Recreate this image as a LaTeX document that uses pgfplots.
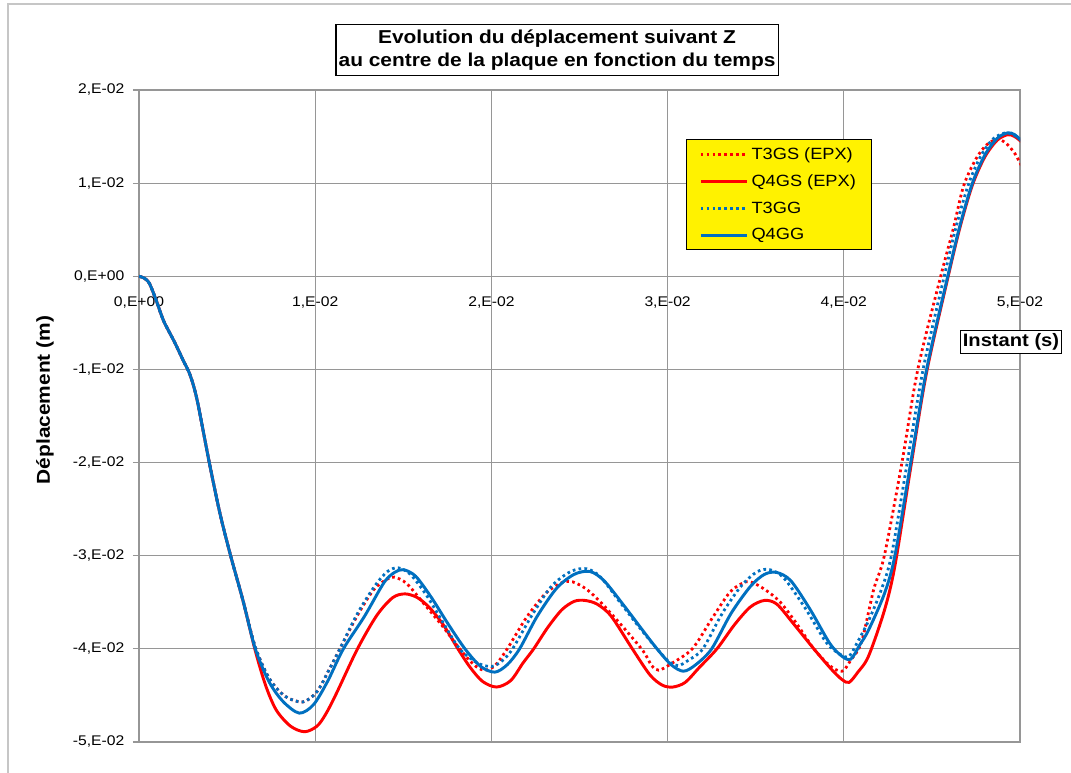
\documentclass[border=0pt]{standalone}
\usepackage{pgfplots}
\pgfplotsset{compat=1.18}
\usepackage{pgfplotstable}
\usepackage{fontspec}
\setmainfont{Liberation Sans}[FakeStretch=1.12]

\definecolor{xlred}{RGB}{255,0,0}
\definecolor{xlblue}{RGB}{0,112,192}
\definecolor{gridgray}{RGB}{150,150,150}

% T3GS (EPX)
\pgfplotstableread{
t      w
0      0
0.0003 -0.0002
0.0006 -0.0008
0.0010 -0.0027
0.0014 -0.0048
0.0020 -0.0070
0.0025 -0.0090
0.0029 -0.0106
0.0033 -0.0133
0.0040 -0.0201
0.0046 -0.0255
0.0052 -0.0300
0.0059 -0.0348
0.0066 -0.0398
0.0074 -0.0432
0.0083 -0.0451
0.0093 -0.0457
0.0101 -0.0446
0.0108 -0.0422
0.0114 -0.0400
0.0124 -0.0364
0.0133 -0.0337
0.0140 -0.0326
0.0145 -0.0323
0.0152 -0.0330
0.0161 -0.0350
0.0172 -0.0375
0.0182 -0.0400
0.0190 -0.0417
0.0196 -0.0423
0.0202 -0.0418
0.0209 -0.0400
0.0220 -0.0366
0.0231 -0.0340
0.0240 -0.0329
0.0246 -0.0328
0.0254 -0.0336
0.0262 -0.0350
0.0274 -0.0375
0.0286 -0.0402
0.0291 -0.0418
0.0295 -0.0423
0.0302 -0.0416
0.0314 -0.0400
0.0325 -0.0368
0.0335 -0.0340
0.0342 -0.0330
0.0347 -0.0328
0.0355 -0.0336
0.0364 -0.0350
0.0374 -0.0375
0.0383 -0.0400
0.0392 -0.0418
0.0399 -0.0424
0.0404 -0.0412
0.0410 -0.0393
0.0417 -0.0336
0.0423 -0.0300
0.0433 -0.0200
0.0442 -0.0100
0.0455 0.0000
0.0462 0.0050
0.0468 0.0097
0.0475 0.0126
0.0481 0.0141
0.0487 0.0147
0.0492 0.0143
0.0497 0.0132
0.0501 0.0118
}\tthreegs

% Q4GS (EPX)
\pgfplotstableread{
t      w
0      0
0.0003 -0.0002
0.0006 -0.0008
0.0010 -0.0027
0.0014 -0.0048
0.0020 -0.0070
0.0025 -0.0090
0.0029 -0.0106
0.0033 -0.0133
0.0040 -0.0201
0.0046 -0.0255
0.0052 -0.0300
0.0059 -0.0348
0.0066 -0.0402
0.0072 -0.0440
0.0078 -0.0466
0.0086 -0.0483
0.0094 -0.0489
0.0101 -0.0483
0.0106 -0.0470
0.0112 -0.0448
0.0124 -0.0400
0.0135 -0.0364
0.0144 -0.0345
0.0151 -0.0341
0.0158 -0.0345
0.0165 -0.0356
0.0173 -0.0375
0.0181 -0.0400
0.0188 -0.0420
0.0195 -0.0435
0.0203 -0.0441
0.0211 -0.0434
0.0218 -0.0415
0.0224 -0.0400
0.0232 -0.0377
0.0240 -0.0358
0.0247 -0.0349
0.0253 -0.0348
0.0260 -0.0352
0.0268 -0.0365
0.0280 -0.0400
0.0290 -0.0428
0.0297 -0.0439
0.0303 -0.0441
0.0310 -0.0436
0.0318 -0.0420
0.0328 -0.0400
0.0338 -0.0374
0.0347 -0.0355
0.0355 -0.0348
0.0362 -0.0352
0.0371 -0.0372
0.0383 -0.0400
0.0393 -0.0422
0.0399 -0.0433
0.0403 -0.0436
0.0408 -0.0425
0.0414 -0.0408
0.0423 -0.0359
0.0429 -0.0311
0.0438 -0.0205
0.0447 -0.0103
0.0459 -0.0002
0.0466 0.0053
0.0473 0.0098
0.0480 0.0128
0.0487 0.0146
0.0493 0.0152
0.0497 0.0150
0.0501 0.0144
}\qfourgs

% T3GG
\pgfplotstableread{
t      w
0      0
0.0003 -0.0002
0.0006 -0.0008
0.0010 -0.0027
0.0014 -0.0048
0.0020 -0.0070
0.0025 -0.0090
0.0029 -0.0106
0.0033 -0.0133
0.0040 -0.0201
0.0046 -0.0255
0.0052 -0.0300
0.0059 -0.0348
0.0066 -0.0398
0.0074 -0.0432
0.0083 -0.0451
0.0093 -0.0457
0.0101 -0.0446
0.0108 -0.0422
0.0114 -0.0400
0.0124 -0.0362
0.0134 -0.0332
0.0141 -0.0317
0.0147 -0.0313
0.0154 -0.0320
0.0163 -0.0342
0.0172 -0.0370
0.0182 -0.0400
0.0192 -0.0415
0.0200 -0.0419
0.0206 -0.0413
0.0212 -0.0400
0.0223 -0.0364
0.0234 -0.0333
0.0245 -0.0317
0.0254 -0.0314
0.0262 -0.0323
0.0273 -0.0350
0.0284 -0.0377
0.0294 -0.0400
0.0301 -0.0414
0.0306 -0.0418
0.0312 -0.0412
0.0320 -0.0400
0.0331 -0.0362
0.0342 -0.0332
0.0351 -0.0317
0.0358 -0.0315
0.0366 -0.0324
0.0378 -0.0356
0.0390 -0.0393
0.0398 -0.0406
0.0403 -0.0408
0.0408 -0.0392
0.0414 -0.0370
0.0421 -0.0338
0.0427 -0.0300
0.0436 -0.0200
0.0445 -0.0100
0.0457 0.0000
0.0464 0.0055
0.0471 0.0100
0.0478 0.0130
0.0485 0.0148
0.0492 0.0154
0.0497 0.0151
0.0501 0.0146
}\tthreegg

% Q4GG
\pgfplotstableread{
t      w
0      0
0.0003 -0.0002
0.0006 -0.0008
0.0010 -0.0027
0.0014 -0.0048
0.0020 -0.0070
0.0025 -0.0090
0.0029 -0.0106
0.0033 -0.0133
0.0040 -0.0201
0.0046 -0.0255
0.0052 -0.0300
0.0059 -0.0348
0.0066 -0.0400
0.0074 -0.0436
0.0082 -0.0457
0.0091 -0.0469
0.0099 -0.0460
0.0107 -0.0435
0.0116 -0.0400
0.0128 -0.0365
0.0139 -0.0329
0.0145 -0.0318
0.0150 -0.0315
0.0157 -0.0322
0.0166 -0.0345
0.0175 -0.0372
0.0185 -0.0400
0.0194 -0.0419
0.0202 -0.0425
0.0209 -0.0417
0.0216 -0.0400
0.0226 -0.0365
0.0237 -0.0335
0.0247 -0.0320
0.0256 -0.0317
0.0264 -0.0327
0.0275 -0.0353
0.0285 -0.0378
0.0294 -0.0400
0.0302 -0.0417
0.0309 -0.0424
0.0316 -0.0417
0.0325 -0.0400
0.0336 -0.0362
0.0347 -0.0333
0.0355 -0.0320
0.0362 -0.0318
0.0370 -0.0327
0.0381 -0.0358
0.0392 -0.0394
0.0399 -0.0408
0.0404 -0.0411
0.0409 -0.0396
0.0414 -0.0380
0.0423 -0.0341
0.0429 -0.0300
0.0438 -0.0200
0.0447 -0.0100
0.0459 0.0000
0.0466 0.0055
0.0473 0.0100
0.0480 0.0130
0.0487 0.0148
0.0493 0.0154
0.0497 0.0152
0.0501 0.0145
}\qfourgg

\begin{document}
\begin{tikzpicture}
\path[use as bounding box, fill=white] (-104.25pt,-23.25pt) rectangle (699pt,556.5pt);
% bords de la feuille
\draw[gray!45, line width=0.8pt] (-98.25pt,-23.25pt) -- (-98.25pt,553.5pt) -- (699pt,553.5pt);
\begin{axis}[
  at={(0pt,0pt)}, anchor=south west,
  scale only axis, width=660.75pt, height=489pt,
  xmin=0, xmax=0.05, ymin=-0.05, ymax=0.02,
  xtick={0,0.01,0.02,0.03,0.04,0.05},
  xticklabels={{0,E+00},{1,E-02},{2,E-02},{3,E-02},{4,E-02},{5,E-02}},
  ytick={-0.05,-0.04,-0.03,-0.02,-0.01,0,0.01,0.02},
  yticklabels={{-5,E-02},{-4,E-02},{-3,E-02},{-2,E-02},{-1,E-02},{0,E+00},{1,E-02},{2,E-02}},
  scaled x ticks=false, scaled y ticks=false,
  grid=major,
  major grid style={gridgray, line width=0.9pt},
  axis line style={gridgray, line width=0.9pt},
  tick style={gridgray, line width=0.9pt},
  ytick pos=left, tick align=outside, major tick length=4.5pt,
  x tick style={draw=none},
  xticklabel style={font=\fontsize{10.5}{12}\selectfont, yshift=342pt},
  yticklabel style={font=\fontsize{10.5}{12}\selectfont, xshift=-3pt},
  title={Evolution du déplacement suivant Z\\au centre de la plaque en fonction du temps},
  every axis title/.style={at={(axis description cs:0.4745,1.0613)}, anchor=center,
    draw=black, fill=white, align=center, line width=0.8pt,
    font=\bfseries\fontsize{14}{17}\selectfont, inner xsep=2pt, inner ysep=4pt},
  xlabel={Instant (s)},
  xlabel style={at={(axis description cs:0.9898,0.6135)}, anchor=center,
    draw=black, fill=white, line width=0.8pt,
    font=\bfseries\fontsize{13.5}{16}\selectfont, inner sep=2pt},
  ylabel={Déplacement (m)},
  ylabel style={at={(axis description cs:-0.1067,0.5245)}, anchor=center, rotate=0,
    font=\bfseries\fontsize{14}{16}\selectfont},
  legend style={at={(axis description cs:0.621,0.9248)}, anchor=north west,
    fill=yellow, draw=black, line width=0.8pt,
    font=\fontsize{12.2}{14}\selectfont, inner xsep=9.5pt, inner ysep=4pt,
    row sep=6pt, cells={anchor=west}},
  legend image code/.code={\draw[#1] (0pt,0pt) -- (35pt,0pt);},
  every axis plot/.append style={smooth, tension=0.5, no markers},
]
\addplot[xlred, line width=2.1pt, dash pattern=on 2pt off 2.4pt] table[x=t, y=w] {\tthreegs};
\addlegendentry{T3GS (EPX)}
\addplot[xlred, line width=2.2pt] table[x=t, y=w] {\qfourgs};
\addlegendentry{Q4GS (EPX)}
\addplot[xlblue, line width=2.1pt, dash pattern=on 2pt off 2.4pt] table[x=t, y=w] {\tthreegg};
\addlegendentry{T3GG}
\addplot[xlblue, line width=2.2pt] table[x=t, y=w] {\qfourgg};
\addlegendentry{Q4GG}
\end{axis}
\end{tikzpicture}
\end{document}
